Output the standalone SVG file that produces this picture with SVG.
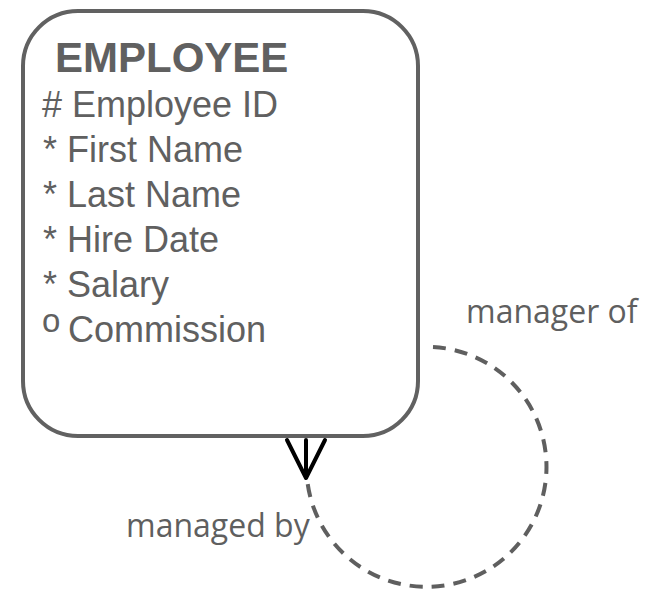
<svg xmlns="http://www.w3.org/2000/svg" width="652" height="589" viewBox="0 0 652 589">
  <style>
    .box { fill: #ffffff; stroke: #616161; stroke-width: 4; }
    .title { font-family: "Liberation Sans", Arial, sans-serif; font-weight: bold; font-size: 42px; fill: #606060; }
    .attr { font-family: "Liberation Sans", Arial, sans-serif; font-size: 36px; fill: #606060; }
    .lbl { font-family: "Open Sans", "Noto Sans", sans-serif; font-size: 32px; fill: #5f5f5f; }
    .rel { fill: none; stroke: #5f5f5f; stroke-width: 4; stroke-dasharray: 13 9; }
    .crow { fill: none; stroke: #000000; stroke-width: 4; stroke-linecap: round; stroke-linejoin: round; }
  </style>
  <rect width="652" height="589" fill="#ffffff"/>
  <g id="connectors">
    <path class="rel" d="M 433 347 A 120 120 0 1 1 307 478"/>
    <path class="crow" d="M 287 440 L 306 478 L 325 440 M 306 440 L 306 478"/>
    <text class="lbl" x="466" y="323">manager of</text>
    <text class="lbl" x="126" y="537">managed by</text>
  </g>
  <g id="employee">
    <rect class="box" x="23" y="11" width="395" height="425" rx="55" ry="55"/>
    <text class="title" x="55" y="72">EMPLOYEE</text>
    <text class="attr" x="42" y="117"># Employee ID</text>
    <text class="attr" x="43" y="162">* First Name</text>
    <text class="attr" x="43" y="207">* Last Name</text>
    <text class="attr" x="43" y="252">* Hire Date</text>
    <text class="attr" x="43" y="297">* Salary</text>
    <text class="attr" x="42" y="342"><tspan font-size="33" dy="-10">o</tspan><tspan x="68" dy="10">Commission</tspan></text>
  </g>
</svg>
